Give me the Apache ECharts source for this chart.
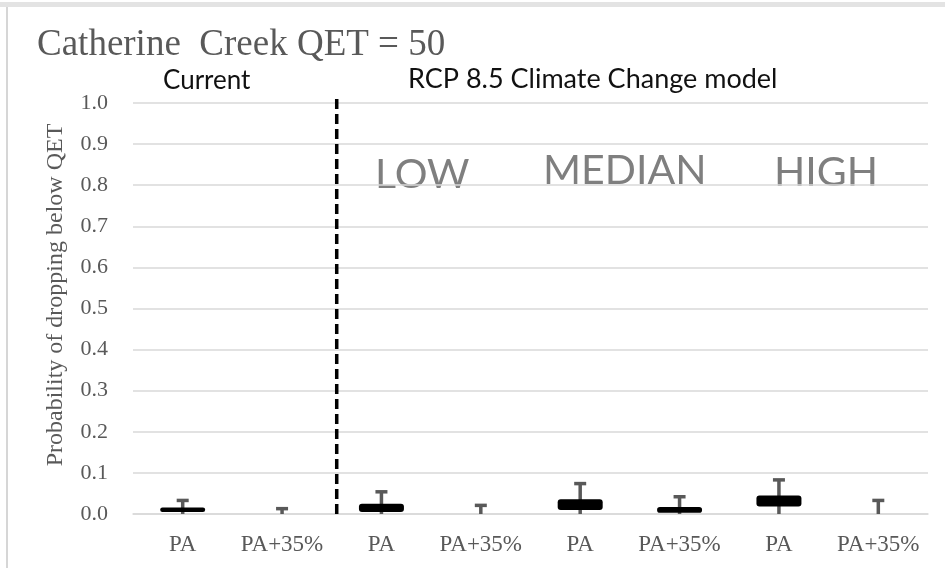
<!DOCTYPE html>
<html>
<head>
<meta charset="utf-8">
<script src="https://cdn.jsdelivr.net/npm/echarts@6/dist/echarts.min.js"></script>
<style>
  html, body { margin: 0; padding: 0; background: #fff; }
  #chart { width: 945px; height: 568px; }
</style>
</head>
<body>
<div id="chart"></div>
<script>
// categories along the x axis
var categories = ["PA", "PA+35%", "PA", "PA+35%", "PA", "PA+35%", "PA", "PA+35%"];
// black box: lower and upper edge (null = no box)
var boxLow = [0.005, null, 0.005, null, 0.010, 0.003, 0.018, null];
var boxHigh = [0.016, null, 0.025, null, 0.036, 0.017, 0.045, null];
// grey whisker: bottom and top
var errLow = [0, 0, 0, 0, 0, 0, 0, 0];
var errHigh = [0.033, 0.013, 0.054, 0.021, 0.074, 0.042, 0.083, 0.033];
// y tick labels
var yTicks = ["0.0", "0.1", "0.2", "0.3", "0.4", "0.5", "0.6", "0.7", "0.8", "0.9", "1.0"];
// position of the dashed divider (category units) and scenario labels
var dividerPos = 2.05;
var scenarios = ["LOW", "MEDIAN", "HIGH"];

var chart = echarts.init(document.getElementById("chart"));

var boxSize = boxHigh.map(function (v, i) {
  return v == null ? null : +(v - boxLow[i]).toFixed(4);
});
var errData = categories.map(function (c, i) {
  return [i, errLow[i], errHigh[i]];
});

var serif = "'Liberation Serif', 'Times New Roman', serif";
var sans = "Lato, 'Open Sans', sans-serif";

var option = {
  animation: false,
  backgroundColor: "#fff",
  title: {
    text: "Catherine  Creek QET = 50",
    left: 32,
    top: 22,
    textStyle: { fontFamily: serif, fontSize: 37, fontWeight: "normal", color: "#595959" }
  },
  grid: { left: 133, right: 17, top: 103, bottom: 54, containLabel: false, outerBoundsMode: "none" },
  xAxis: [
    {
      type: "category",
      data: categories,
      axisTick: { show: false },
      axisLine: { lineStyle: { color: "#d9d9d9", width: 1.5 } },
      axisLabel: { interval: 0, hideOverlap: false, fontFamily: serif, fontSize: 23, color: "#595959", margin: 19 }
    },
    { type: "value", min: 0, max: 8, show: false }
  ],
  yAxis: {
    type: "value",
    min: 0,
    max: 1,
    interval: 0.1,
    axisLine: { show: false },
    axisTick: { show: false },
    splitLine: { lineStyle: { color: "#d9d9d9", width: 1.5 } },
    axisLabel: {
      fontFamily: serif, fontSize: 22, color: "#595959", margin: 25,
      formatter: function (v) { return yTicks[Math.round(v * 10)]; }
    }
  },
  graphic: [
    { type: "rect", shape: { x: 0, y: 2, width: 945, height: 5 }, style: { fill: "#e3e3e3" }, silent: true },
    { type: "rect", shape: { x: 6, y: 7, width: 2, height: 561 }, style: { fill: "#d6d6d6" }, silent: true },
    {
      type: "text", x: 56, y: 295, rotation: Math.PI / 2,
      style: { text: "Probability of dropping below QET", font: "24px " + serif, fill: "#595959", align: "center", verticalAlign: "middle" }
    },
    { type: "text", x: 163, y: 81, style: { text: "Current", font: "26px " + sans, fill: "#111", verticalAlign: "middle" } },
    { type: "text", x: 408, y: 79, style: { text: "RCP 8.5 Climate Change model", font: "27px " + sans, fill: "#111", verticalAlign: "middle" } },
    { type: "text", x: 375, y: 175, style: { text: scenarios[0], font: "41px " + sans, fill: "#7f7f7f", verticalAlign: "middle" } },
    { type: "text", x: 543, y: 171, style: { text: scenarios[1], font: "41px " + sans, fill: "#7f7f7f", verticalAlign: "middle" } },
    { type: "text", x: 774, y: 173, style: { text: scenarios[2], font: "41px " + sans, fill: "#7f7f7f", verticalAlign: "middle" } }
  ],
  series: [
    {
      type: "custom",
      z: 1,
      data: errData,
      renderItem: function (params, api) {
        var lo = api.coord([api.value(0), api.value(1)]);
        var hi = api.coord([api.value(0), api.value(2)]);
        var cap = 12;
        var st = { stroke: "#595959", lineWidth: 3.5 };
        return {
          type: "group",
          children: [
            { type: "line", shape: { x1: hi[0], y1: lo[1], x2: hi[0], y2: hi[1] }, style: st },
            { type: "line", shape: { x1: hi[0] - cap / 2, y1: hi[1], x2: hi[0] + cap / 2, y2: hi[1] }, style: st }
          ]
        };
      }
    },
    {
      type: "bar",
      stack: "box",
      z: 3,
      barWidth: 45,
      data: boxLow,
      itemStyle: { color: "rgba(0,0,0,0)" }
    },
    {
      type: "bar",
      stack: "box",
      z: 3,
      barWidth: 45,
      data: boxSize,
      itemStyle: { color: "#000", borderRadius: 3 }
    },
    {
      type: "line",
      xAxisIndex: 1,
      z: 4,
      clip: false,
      symbol: "none",
      data: [[dividerPos, 0], [dividerPos, 1.013]],
      lineStyle: { color: "#000", width: 3.5, type: [10, 5] }
    }
  ]
};

chart.setOption(option);
</script>
</body>
</html>
